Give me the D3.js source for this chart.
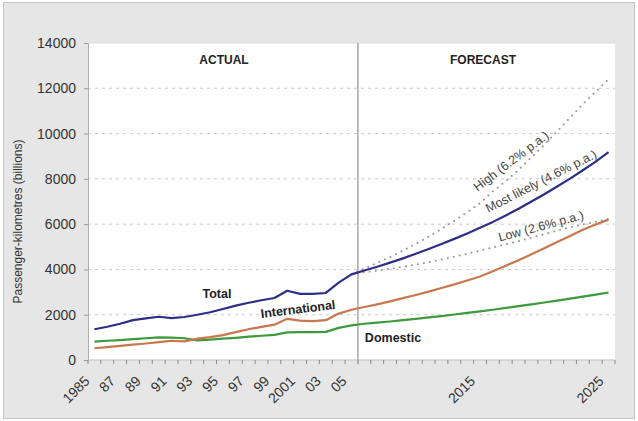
<!DOCTYPE html>
<html>
<head>
<meta charset="utf-8">
<script src="https://cdn.jsdelivr.net/npm/d3@7"></script>
<style>
  body { margin: 0; background: #fff; }
  svg { display: block; font-family: "Liberation Sans", Arial, sans-serif; }
</style>
</head>
<body>
<svg id="chart"></svg>
<script>
// categories
const years = [1985, 1986, 1987, 1988, 1989, 1990, 1991, 1992, 1993, 1994,
  1995, 1996, 1997, 1998, 1999, 2000, 2001, 2002, 2003, 2004,
  2005, 2006, 2007, 2008, 2009, 2010, 2011, 2012, 2013, 2014,
  2015, 2016, 2017, 2018, 2019, 2020, 2021, 2022, 2023, 2024, 2025];

// passenger-km (billions), actual to 2005 then most likely forecast
const total = [1360, 1470, 1600, 1760, 1840, 1910, 1850, 1900, 2000, 2110,
  2250, 2400, 2530, 2640, 2740, 3060, 2920, 2920, 2960, 3420,
  3780, 3950, 4120, 4300, 4490, 4690, 4900, 5120, 5350, 5590,
  5840, 6100, 6380, 6680, 7000, 7320, 7660, 8010, 8380, 8760, 9180];
const international = [520, 570, 620, 680, 730, 790, 850, 820, 940, 1010,
  1100, 1230, 1360, 1460, 1560, 1820, 1740, 1720, 1760, 2050,
  2220, 2340, 2460, 2590, 2730, 2870, 3020, 3180, 3340, 3510,
  3690, 3920, 4160, 4410, 4670, 4940, 5210, 5480, 5750, 5980, 6200];
const domestic = [810, 850, 880, 920, 960, 1000, 990, 960, 870, 900,
  940, 980, 1030, 1070, 1110, 1220, 1230, 1230, 1240, 1420,
  1530, 1600, 1650, 1700, 1760, 1820, 1880, 1940, 2010, 2080,
  2150, 2220, 2300, 2380, 2460, 2540, 2620, 2710, 2800, 2890, 2980];

// scenario lines, 2005 to 2025
const scenarioYears = [2005, 2006, 2007, 2008, 2009, 2010, 2011, 2012, 2013, 2014,
  2015, 2016, 2017, 2018, 2019, 2020, 2021, 2022, 2023, 2024, 2025];
const high = [3780, 4040, 4290, 4550, 4830, 5130, 5450, 5790, 6150, 6530,
  6930, 7450, 7900, 8400, 8950, 9500, 10100, 10700, 11300, 11850, 12400];
const low = [3780, 3870, 3950, 4030, 4120, 4210, 4320, 4440, 4560, 4690,
  4830, 4970, 5110, 5250, 5400, 5560, 5710, 5860, 5990, 6100, 6230];

// tick labels
const labelYears = [1985, 1987, 1989, 1991, 1993, 1995, 1997, 1999, 2001, 2003, 2005, 2015, 2025];
const labelText = ["1985", "87", "89", "91", "93", "95", "97", "99", "2001", "03", "05", "2015", "2025"];
const yTicks = [0, 2000, 4000, 6000, 8000, 10000, 12000, 14000];

const W = 638, H = 421;
const margin = { top: 43, right: 23, bottom: 61, left: 88 };

const svg = d3.select("#chart").attr("width", W).attr("height", H);

// outer frame
svg.append("rect")
  .attr("x", 3.5).attr("y", 2.5).attr("width", W - 7).attr("height", H - 5)
  .attr("fill", "#e6e6e6").attr("stroke", "#c4c4c4");

const x = d3.scaleBand()
  .domain(years)
  .range([margin.left, W - margin.right])
  .paddingInner(0).paddingOuter(0);
const cx = yr => x(yr) + x.bandwidth() / 2;

const y = d3.scaleLinear()
  .domain([0, 14000])
  .range([H - margin.bottom, margin.top]);

// plot area
svg.append("rect")
  .attr("x", margin.left).attr("y", margin.top)
  .attr("width", W - margin.left - margin.right)
  .attr("height", H - margin.top - margin.bottom)
  .attr("fill", "#fff");

// gridlines
svg.append("g")
  .selectAll("line")
  .data(yTicks.filter(d => d > 0 && d < 14000))
  .join("line")
  .attr("x1", margin.left).attr("x2", W - margin.right)
  .attr("y1", d => y(d)).attr("y2", d => y(d))
  .attr("stroke", "#c8c8c8").attr("stroke-width", 1)
  .attr("stroke-dasharray", "3,4");

svg.append("line")
  .attr("x1", margin.left).attr("x2", W - margin.right)
  .attr("y1", y(14000)).attr("y2", y(14000))
  .attr("stroke", "#dcdcdc");

// y axis
const yAxis = svg.append("g")
  .attr("transform", `translate(${margin.left},0)`)
  .call(d3.axisLeft(y).tickValues(yTicks).tickSize(4).tickPadding(8).tickFormat(d3.format("d")));
yAxis.select(".domain").attr("stroke", "#b0b0b0");
yAxis.selectAll(".tick line").attr("stroke", "#999");
yAxis.selectAll("text")
  .attr("fill", "#333").style("font-size", "14px");

// x axis ticks at category boundaries
const xBase = y(0);
const boundaries = years.map(yr => x(yr)).concat([x.range()[1]]);
svg.append("line")
  .attr("x1", margin.left).attr("x2", W - margin.right)
  .attr("y1", xBase).attr("y2", xBase)
  .attr("stroke", "#c0c0c0");
svg.append("g")
  .selectAll("line")
  .data(boundaries)
  .join("line")
  .attr("x1", d => d).attr("x2", d => d)
  .attr("y1", xBase).attr("y2", xBase + 4)
  .attr("stroke", "#888");

svg.append("g")
  .selectAll("text")
  .data(labelYears)
  .join("text")
  .attr("transform", d => `translate(${cx(d) - 4},${xBase + 22}) rotate(-45)`)
  .attr("text-anchor", "end")
  .attr("fill", "#333")
  .style("font-size", "14px")
  .text((d, i) => labelText[i]);

// divider between actual and forecast
svg.append("line")
  .attr("x1", x(2006)).attr("x2", x(2006))
  .attr("y1", margin.top).attr("y2", xBase + 4)
  .attr("stroke", "#a8a8a8").attr("stroke-width", 1.5);

// lines
const line = d3.line()
  .x(d => cx(d[0]))
  .y(d => y(d[1]));

const dotted = [high, low];
dotted.forEach(s => {
  svg.append("path")
    .datum(scenarioYears.map((yr, i) => [yr, s[i]]))
    .attr("d", line)
    .attr("fill", "none")
    .attr("stroke", "#9a9a9a")
    .attr("stroke-width", 2)
    .attr("stroke-linecap", "round")
    .attr("stroke-dasharray", "0.1,6");
});

const series = [
  { values: domestic, color: "#3c9a3c" },
  { values: international, color: "#c8774e" },
  { values: total, color: "#2c2f86" }
];
series.forEach(s => {
  svg.append("path")
    .datum(years.map((yr, i) => [yr, s.values[i]]))
    .attr("d", line)
    .attr("fill", "none")
    .attr("stroke", s.color)
    .attr("stroke-width", 2.2)
    .attr("stroke-linejoin", "round");
});

// annotations
const note = (txt, px, py, opts = {}) => svg.append("text")
  .attr("transform", `translate(${px},${py}) rotate(${opts.rot || 0})`)
  .attr("text-anchor", "middle")
  .attr("dy", "0.35em")
  .attr("fill", opts.fill || "#222")
  .style("font-size", (opts.size || 12.5) + "px")
  .style("font-weight", opts.bold ? "bold" : "normal")
  .text(txt);

note("ACTUAL", 224, 60, { bold: true, size: 12 });
note("FORECAST", 483, 60, { bold: true, size: 12 });
note("Total", 217, 294, { bold: true });
note("International", 298, 309, { bold: true, rot: -7 });
note("Domestic", 393, 338, { bold: true });
note("High (6.2% p.a.)", 511, 161, { rot: -37, size: 12.5, fill: "#444" });
note("Most likely (4.6% p.a.)", 541, 181, { rot: -27, size: 12.5, fill: "#444" });
note("Low (2.6% p.a.)", 541, 226, { rot: -15, size: 12.5, fill: "#444" });

// y axis title
svg.append("text")
  .attr("transform", `translate(22,${(margin.top + xBase) / 2 + 20}) rotate(-90)`)
  .attr("text-anchor", "middle")
  .attr("fill", "#333")
  .style("font-size", "12px")
  .text("Passenger-kilometres (billions)");
</script>
</body>
</html>
